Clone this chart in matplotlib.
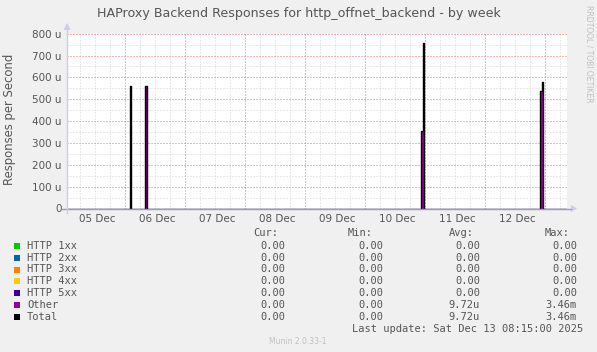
import numpy as np
import matplotlib
matplotlib.use("Agg")
import matplotlib.pyplot as plt

# --- data ---
# time axis in days, one sample per 24 min, red grid lines at whole days
t_start = -0.9667
n_samples = 500
step_days = 1.0 / 60.0

# spikes: sample index -> value (u = 1e-6 responses/s)
spike_idx   = [63,  78,  79,  354, 355, 356, 473, 474, 475]
total_vals  = [560, 560, 560, 355, 355, 756, 537, 537, 577]
other_vals  = [0,   560, 560, 355, 355, 355, 535, 535, 535]

day_labels = ['05 Dec', '06 Dec', '07 Dec', '08 Dec', '09 Dec', '10 Dec', '11 Dec', '12 Dec']
label_pos = [-0.467, 0.533, 1.533, 2.533, 3.533, 4.533, 5.533, 6.533]

series_names  = ['HTTP 1xx', 'HTTP 2xx', 'HTTP 3xx', 'HTTP 4xx', 'HTTP 5xx', 'Other', 'Total']
series_colors = ['#00cc00', '#0066b3', '#ff8000', '#ffcc00', '#330099', '#990099', '#000000']
cur_vals = ['0.00'] * 7
min_vals = ['0.00'] * 7
avg_vals = ['0.00', '0.00', '0.00', '0.00', '0.00', '9.72u', '9.72u']
max_vals = ['0.00', '0.00', '0.00', '0.00', '0.00', '3.46m', '3.46m']

# --- build the series ---
t = t_start + np.arange(n_samples + 1) * step_days
total = np.zeros(n_samples + 1)
other = np.zeros(n_samples + 1)
for i, tv, ov in zip(spike_idx, total_vals, other_vals):
    total[i] = tv
    other[i] = ov

W, H = 597, 352
fig = plt.figure(figsize=(W / 100, H / 100), dpi=100)
fig.patch.set_facecolor('#f0f0f0')

x0, x1 = 67, 567
y_top, y_bot = 33.7, 208.5
ax = fig.add_axes([x0 / W, 1 - y_bot / H, (x1 - x0) / W, (y_bot - y_top) / H])
ax.set_facecolor('white')
xmin, xmax = t_start, t_start + n_samples * step_days
ax.set_xlim(xmin, xmax)
ax.set_ylim(0, 800)
for s in ax.spines.values():
    s.set_visible(False)

dot = (0, (1, 2))
# minor grid
for v in np.arange(-0.75, 7.5, 0.25):
    if abs(v - round(v)) > 1e-6 and xmin < v < xmax:
        ax.axvline(v, color='#d4d4d4', lw=0.72, ls=dot, zorder=1)
for v in range(50, 800, 100):
    ax.axhline(v, color='#d4d4d4', lw=0.72, ls=dot, zorder=1)
# major grid
for v in range(0, 8):
    ax.axvline(v, color='#ee6f6f', lw=0.72, ls=dot, zorder=1)
for v in range(100, 801, 100):
    ax.axhline(v, color='#ee6f6f', lw=0.72, ls=dot, zorder=1)

ax.fill_between(t, other, step='post', color='#990099', lw=0, zorder=2)
ax.step(t, total, where='post', color='black', lw=1.0, zorder=3)

ax.set_yticks(range(0, 801, 100))
ax.set_yticklabels(['0'] + ['%d u' % v for v in range(100, 801, 100)])
ax.set_xticks(label_pos)
ax.set_xticklabels(day_labels)
ax.tick_params(length=0, labelsize=7.5, colors='#555555', pad=4)

# axis lines with arrows
fig.add_artist(plt.Line2D([62 / W, 571 / W], [1 - y_bot / H] * 2, color='#9999cc', lw=1, zorder=10))
fig.add_artist(plt.Line2D([x0 / W] * 2, [1 - 213 / H, 1 - 25 / H], color='#ccccf0', lw=1, zorder=10))
fig.add_artist(plt.Polygon([[571 / W, 1 - 205 / H], [577 / W, 1 - y_bot / H], [571 / W, 1 - 212 / H]],
                           closed=True, color='#ccccf0', lw=0))
fig.add_artist(plt.Polygon([[63.5 / W, 1 - 30 / H], [x0 / W, 1 - 23 / H], [70.5 / W, 1 - 30 / H]],
                           closed=True, color='#ccccf0', lw=0))

fig.text(299 / W, 1 - 13 / H, 'HAProxy Backend Responses for http_offnet_backend - by week',
         ha='center', va='center', fontsize=9.1, color='#555555')
fig.text(10 / W, 1 - 119 / H, 'Responses per Second', rotation=90, ha='center', va='center',
         fontsize=8.4, color='#555555')
fig.text(589 / W, 1 - 5 / H, 'RRDTOOL / TOBI OETIKER', rotation=270, ha='center', va='top',
         fontsize=5.5, color='#c0c0c0')

# legend table
mono = 'DejaVu Sans Mono'
tc = '#555555'
fs = 7.5
fig.text(278 / W, 1 - 233 / H, 'Cur:', ha='right', va='center', family=mono, fontsize=fs, color=tc)
fig.text(373 / W, 1 - 233 / H, 'Min:', ha='right', va='center', family=mono, fontsize=fs, color=tc)
fig.text(474 / W, 1 - 233 / H, 'Avg:', ha='right', va='center', family=mono, fontsize=fs, color=tc)
fig.text(570 / W, 1 - 233 / H, 'Max:', ha='right', va='center', family=mono, fontsize=fs, color=tc)
for k, name in enumerate(series_names):
    y = 1 - (245.7 + k * 11.9) / H
    fig.add_artist(plt.Rectangle((14 / W, y - 3 / H), 6 / W, 6 / H, color=series_colors[k], lw=0))
    fig.text(27 / W, y, name, ha='left', va='center', family=mono, fontsize=fs, color=tc)
    fig.text(285 / W, y, cur_vals[k], ha='right', va='center', family=mono, fontsize=fs, color=tc)
    fig.text(383 / W, y, min_vals[k], ha='right', va='center', family=mono, fontsize=fs, color=tc)
    fig.text(480 / W, y, avg_vals[k], ha='right', va='center', family=mono, fontsize=fs, color=tc)
    fig.text(577 / W, y, max_vals[k], ha='right', va='center', family=mono, fontsize=fs, color=tc)
fig.text(583 / W, 1 - 329 / H, 'Last update: Sat Dec 13 08:15:00 2025', ha='right', va='center',
         family=mono, fontsize=fs, color=tc)
fig.text(298 / W, 1 - 341 / H, 'Munin 2.0.33-1', ha='center', va='center', fontsize=5.5, color='#c0c0c0')

fig.savefig('out.png', dpi=100, facecolor=fig.get_facecolor())
